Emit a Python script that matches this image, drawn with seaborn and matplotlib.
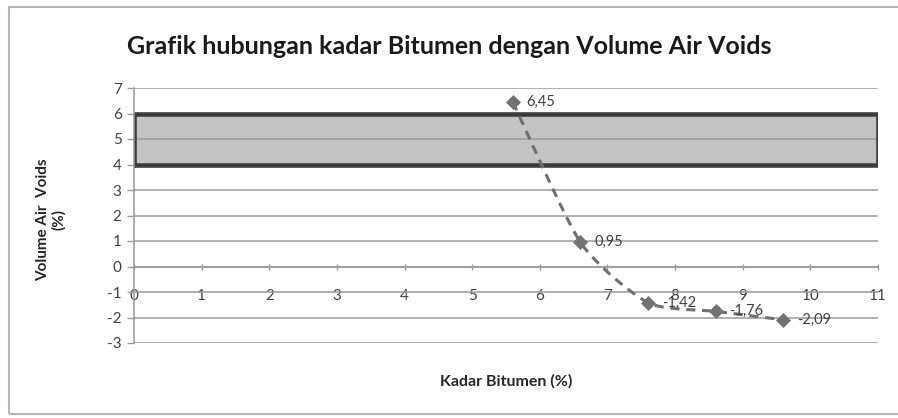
import numpy as np
import pandas as pd
import matplotlib
matplotlib.use("Agg")
import matplotlib.pyplot as plt
from matplotlib.patches import Rectangle
import seaborn as sns

# Data
kadar_bitumen = [5.6, 6.6, 7.6, 8.6, 9.6]
air_voids = [6.45, 0.95, -1.42, -1.76, -2.09]
spec_low, spec_high = 4, 6
x_ticks = list(range(0, 12))
y_ticks = list(range(-3, 8))

df = pd.DataFrame({"kadar": kadar_bitumen, "vim": air_voids})

sns.set_theme(style="white")
plt.rcParams["font.family"] = ["Lato", "DejaVu Sans"]

fig = plt.figure(figsize=(8.98, 4.18), dpi=100)
W, H = 898, 418
ax = fig.add_axes([134 / W, 1 - 343 / H, (878 - 134) / W, (343 - 88) / H])

grid_c = "#9a9a9a"
txt_c = "#404040"

# horizontal grid
for yv in y_ticks:
    ax.plot([0, 11], [yv, yv], color=grid_c, lw=1.1, zorder=1)

# specification band
ax.add_patch(Rectangle((0, spec_low), 11, spec_high - spec_low,
                       facecolor="#c3c3c3", edgecolor="none", zorder=0.5))
ax.plot([0, 11, 11, 0, 0], [spec_low, spec_low, spec_high, spec_high, spec_low],
        color="#3c3c3c", lw=3.3, zorder=2, solid_joinstyle="miter")


# smoothed curve through the points (cardinal Bezier segments)
def smooth_curve(xs, ys, k=1 / 9, n=60):
    p = np.column_stack([xs, ys]).astype(float)
    pts = np.vstack([p[0], p, p[-1]])
    out = []
    for i in range(1, len(pts) - 2):
        p0, p3 = pts[i], pts[i + 1]
        c1 = p0 + (pts[i + 1] - pts[i - 1]) * k
        c2 = p3 - (pts[i + 2] - pts[i]) * k
        t = np.linspace(0, 1, n)[:, None]
        seg = ((1 - t) ** 3) * p0 + 3 * ((1 - t) ** 2) * t * c1 \
            + 3 * (1 - t) * t ** 2 * c2 + t ** 3 * p3
        out.append(seg if i == 1 else seg[1:])
    return np.vstack(out)


curve = smooth_curve(kadar_bitumen, air_voids)
curve_df = pd.DataFrame({"x": curve[:, 0], "y": curve[:, 1]})
sns.lineplot(data=curve_df, x="x", y="y", ax=ax, sort=False, color="#6f6f6f",
             lw=2.2, linestyle=(0, (3, 2.2)), zorder=3)

sns.scatterplot(data=df, x="kadar", y="vim", ax=ax, marker="D", s=50,
                color="#727272", edgecolor="#727272", zorder=4)

for xv, yv in zip(kadar_bitumen, air_voids):
    ax.annotate(f"{yv:.2f}".replace(".", ","), (xv, yv), xytext=(10, 0),
                textcoords="offset points", va="center", ha="left",
                fontsize=10.5, color=txt_c, zorder=5)

ax.set_xlim(0, 11)
ax.set_ylim(-3, 7)
ax.set_xticks(x_ticks)
ax.set_yticks(y_ticks)
ax.set_xticklabels([str(v) for v in x_ticks])
ax.set_yticklabels([str(v) for v in y_ticks])

for s in ["top", "right"]:
    ax.spines[s].set_visible(False)
ax.spines["left"].set_color(grid_c)
ax.spines["left"].set_linewidth(1.1)
ax.spines["bottom"].set_position(("data", 0))
ax.spines["bottom"].set_color(grid_c)
ax.spines["bottom"].set_linewidth(1.1)

ax.tick_params(axis="y", which="both", left=True, length=5, width=1,
               color=grid_c, labelsize=11, labelcolor=txt_c, pad=4)
ax.tick_params(axis="x", which="both", bottom=True, direction="inout",
               length=5, width=1, color=grid_c, labelsize=11,
               labelcolor=txt_c, pad=14)

ax.set_xlabel("")
ax.set_ylabel("")
fig.text(506 / W, 1 - 381 / H, "Kadar Bitumen (%)", ha="center", va="center",
         fontsize=11.5, fontweight="bold", color="#262626")
fig.text(51 / W, 1 - 220 / H, "Volume Air  Voids\n(%)", ha="center",
         va="center", rotation=90, fontsize=11, fontweight="bold",
         color="#262626", linespacing=1.2)
fig.text(449 / W, 1 - 46 / H,
         "Grafik hubungan kadar Bitumen dengan Volume Air Voids",
         ha="center", va="center", fontsize=18, fontweight="bold",
         color="#1a1a1a")

# chart border
fig.patches.append(Rectangle((8.5 / W, 4 / H), 1.0, 1 - 11 / H,
                             transform=fig.transFigure, fill=False,
                             edgecolor="#b5b5b5", lw=1.5))

fig.savefig("out.png", dpi=100, facecolor="white")
